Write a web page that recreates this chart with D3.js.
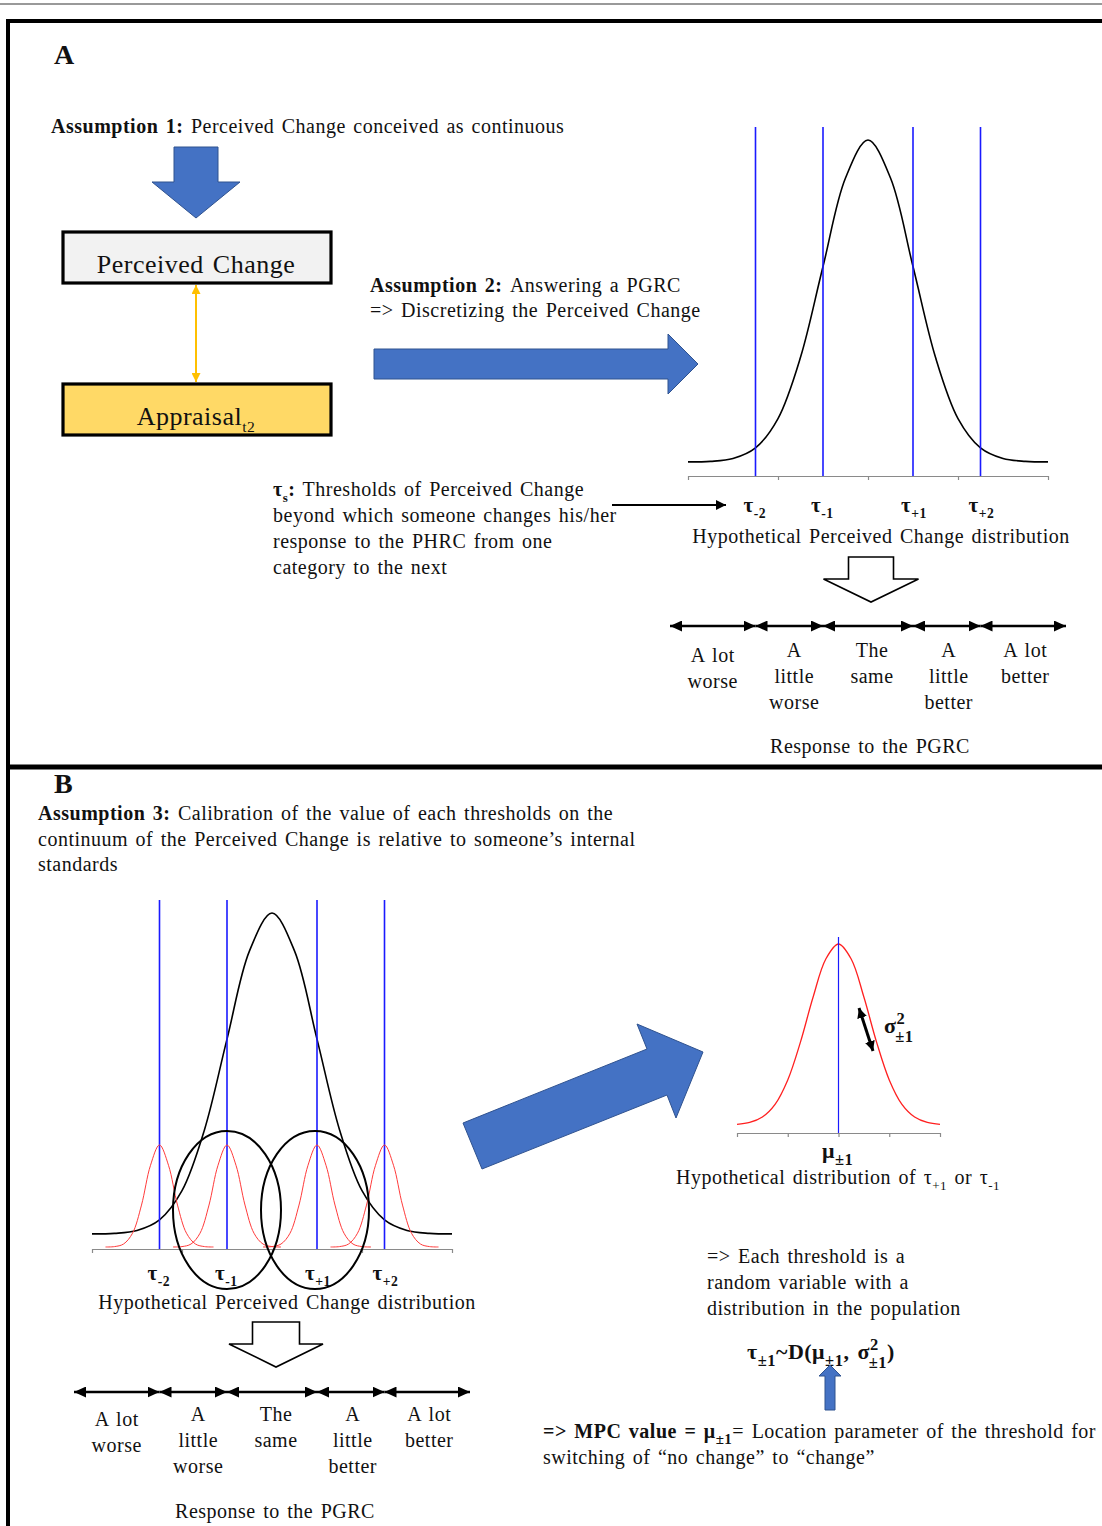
<!DOCTYPE html>
<html>
<head>
<meta charset="utf-8">
<script src="https://cdn.jsdelivr.net/npm/d3@7"></script>
<style>
  body { margin: 0; background: #fff; }
  svg { display: block; font-family: "Liberation Serif", "Times New Roman", serif; }
  text { letter-spacing: 0.5px; word-spacing: 2px; }
</style>
</head>
<body>
<svg id="chart"></svg>
<script>
// Data
const axisTicks = [-2, -1, 0, 1, 2];
const thresholds = [-1.25, -0.5, 0.5, 1.25];
const thresholdSubs = ["-2", "-1", "+1", "+2"];
const categoryEnds = [-2.2, 2.2];
const categories = [
  ["A lot", "worse"],
  ["A", "little", "worse"],
  ["The", "same"],
  ["A", "little", "better"],
  ["A lot", "better"],
];

// perceived change curve, relative height read at each x
const changeX = [-2, -1.75, -1.5, -1.25, -1, -0.75, -0.5, -0.25, 0, 0.25, 0.5, 0.75, 1, 1.25, 1.5, 1.75, 2];
const changeY = [0.0003, 0.002, 0.011, 0.044, 0.135, 0.325, 0.607, 0.882, 1, 0.882, 0.607, 0.325, 0.135, 0.044, 0.011, 0.002, 0.0003];

// small threshold curves (offset from each threshold)
const threshX = [-0.6, -0.5, -0.4, -0.3, -0.2, -0.1, 0, 0.1, 0.2, 0.3, 0.4, 0.5, 0.6];
const threshY = [0.0003, 0.004, 0.029, 0.135, 0.411, 0.801, 1, 0.801, 0.411, 0.135, 0.029, 0.004, 0.0003];

// distribution of a single threshold
const singleX = [-2, -1.75, -1.5, -1.25, -1, -0.75, -0.5, -0.25, 0, 0.25, 0.5, 0.75, 1, 1.25, 1.5, 1.75, 2];
const singleY = [0.004, 0.014, 0.044, 0.114, 0.249, 0.458, 0.707, 0.917, 1, 0.917, 0.707, 0.458, 0.249, 0.114, 0.044, 0.014, 0.004];

// Dimensions
const width = 1102;
const height = 1526;
const blue = "#4472C4";
const blueEdge = "#2F528F";
const lineBlue = "#1a1aff";
const labelShift = [0, 5, 4, 2, 2];

const svg = d3.select("#chart").attr("width", width).attr("height", height);

// Markers
const defs = svg.append("defs");
function marker(id, len, wid, color) {
  defs
    .append("marker")
    .attr("id", id)
    .attr("markerUnits", "userSpaceOnUse")
    .attr("markerWidth", len)
    .attr("markerHeight", wid)
    .attr("refX", len)
    .attr("refY", wid / 2)
    .attr("orient", "auto-start-reverse")
    .append("path")
    .attr("d", `M0,0L${len},${wid / 2}L0,${wid}Z`)
    .attr("fill", color);
}
marker("hb", 12, 11, "#000");
marker("hs", 10, 10, "#000");
marker("ho", 9, 9, "#FFC000");

// Helpers
function richText(parent, x, y, parts, o = {}) {
  const size = o.size || 20;
  const small = o.small || 0.65;
  const t = parent
    .append("text")
    .attr("x", x)
    .attr("y", y)
    .attr("font-size", size)
    .attr("text-anchor", o.anchor || "start")
    .attr("fill", "#111");
  let shift = 0;
  parts.forEach((p) => {
    if (typeof p === "string") p = { t: p };
    const s = p.sub ? size * (p.low || 0.3) : p.sup ? -size * 0.4 : 0;
    const ts = t.append("tspan").text(p.t).attr("dy", s - shift);
    shift = s;
    if (p.bold || o.bold) ts.attr("font-weight", "bold");
    if (p.sub || p.sup) ts.attr("font-size", size * small);
    if (p.dx) ts.attr("dx", p.dx);
  });
  return t;
}

function blockArrow(points, fill, stroke, sw) {
  svg
    .append("polygon")
    .attr("points", points.map((p) => p.join(",")).join(" "))
    .attr("fill", fill)
    .attr("stroke", stroke)
    .attr("stroke-width", sw);
}

// open (outlined) down arrow centred on cx
function openArrow(cx, top, shoulder, tip, shaftW, headW) {
  blockArrow(
    [
      [cx - shaftW / 2, top], [cx + shaftW / 2, top], [cx + shaftW / 2, shoulder],
      [cx + headW / 2, shoulder], [cx, tip], [cx - headW / 2, shoulder],
      [cx - shaftW / 2, shoulder],
    ],
    "#fff", "#000", 1.6
  );
}

// draws a full distribution panel
function distribution(x0, x1, base, peak, axisY, lineTop, labelY, gPanel) {
  const x = d3.scaleLinear().domain([-2, 2]).range([x0, x1]);
  const y = d3.scaleLinear().domain([0, 1]).range([base, peak]);

  gPanel
    .append("g")
    .attr("transform", `translate(0,${axisY})`)
    .call(d3.axisBottom(x).tickValues(axisTicks).tickSize(4).tickSizeOuter(0).tickFormat(""))
    .call((g) => g.selectAll("path,line").attr("stroke", "#8a8a8a").attr("stroke-width", 1.2));

  gPanel
    .append("path")
    .datum(changeX.map((v, i) => [v, changeY[i]]))
    .attr("fill", "none")
    .attr("stroke", "#000")
    .attr("stroke-width", 1.6)
    .attr("d", d3.line().x((d) => x(d[0])).y((d) => y(d[1])).curve(d3.curveCatmullRom));

  gPanel
    .selectAll(".thr")
    .data(thresholds)
    .enter()
    .append("line")
    .attr("x1", (d) => x(d))
    .attr("x2", (d) => x(d))
    .attr("y1", lineTop)
    .attr("y2", axisY)
    .attr("stroke", lineBlue)
    .attr("stroke-width", 1.6);

  thresholds.forEach((d, i) => {
    richText(gPanel, x(d) - 12, labelY, [
      { t: "τ", bold: true },
      { t: thresholdSubs[i], sub: true, bold: true },
    ], { size: 21 });
  });
  return x;
}

function categoryRow(x, y, labelY) {
  const edges = [categoryEnds[0], ...thresholds, categoryEnds[1]];
  for (let i = 0; i < categories.length; i++) {
    svg
      .append("line")
      .attr("x1", x(edges[i]))
      .attr("x2", x(edges[i + 1]))
      .attr("y1", y)
      .attr("y2", y)
      .attr("stroke", "#000")
      .attr("stroke-width", 2.6)
      .attr("marker-start", "url(#hb)")
      .attr("marker-end", "url(#hb)");
    const cx = (x(edges[i]) + x(edges[i + 1])) / 2 + labelShift[i];
    const off = i === 0 ? 5 : 0;
    categories[i].forEach((w, k) => {
      richText(svg, cx, labelY + off + k * 26, [w], { anchor: "middle" });
    });
  }
}

// Frame
svg.append("line").attr("x1", 0).attr("x2", width).attr("y1", 4).attr("y2", 4)
  .attr("stroke", "#777").attr("stroke-width", 1.5);
svg.append("line").attr("x1", 6).attr("x2", width).attr("y1", 21).attr("y2", 21)
  .attr("stroke", "#000").attr("stroke-width", 4);
svg.append("line").attr("x1", 8).attr("x2", 8).attr("y1", 19).attr("y2", height)
  .attr("stroke", "#000").attr("stroke-width", 4);
svg.append("line").attr("x1", 6).attr("x2", width).attr("y1", 767).attr("y2", 767)
  .attr("stroke", "#000").attr("stroke-width", 5);

// ---------- Panel A ----------
const gA = svg.append("g");
richText(svg, 54, 64, ["A"], { size: 28, bold: true });
richText(svg, 51, 133, [{ t: "Assumption 1: ", bold: true }, "Perceived Change conceived as continuous"]);

blockArrow([[174, 147], [218, 147], [218, 182], [240, 182], [196, 218], [152, 182], [174, 182]], blue, blueEdge, 1);

svg.append("rect").attr("x", 63).attr("y", 232).attr("width", 268).attr("height", 51)
  .attr("fill", "#f2f2f2").attr("stroke", "#000").attr("stroke-width", 3.2);
richText(svg, 196, 273, ["Perceived Change"], { size: 26, anchor: "middle" });

svg.append("line").attr("x1", 196).attr("x2", 196).attr("y1", 285).attr("y2", 382)
  .attr("stroke", "#FFC000").attr("stroke-width", 2)
  .attr("marker-start", "url(#ho)").attr("marker-end", "url(#ho)");

svg.append("rect").attr("x", 63).attr("y", 384).attr("width", 268).attr("height", 51)
  .attr("fill", "#FFD966").attr("stroke", "#000").attr("stroke-width", 3.2);
richText(svg, 196, 425, ["Appraisal", { t: "t2", sub: true, low: 0.28 }], { size: 26, anchor: "middle", small: 0.6 });

richText(svg, 370, 292, [{ t: "Assumption 2: ", bold: true }, "Answering a PGRC"]);
richText(svg, 370, 317, ["=> Discretizing the Perceived Change"]);
blockArrow([[374, 349], [668, 349], [668, 334], [698, 364], [668, 394], [668, 379], [374, 379]], blue, blueEdge, 1);

const xA = distribution(688, 1048, 462, 140, 476, 127, 512, gA);

richText(svg, 273, 496, [{ t: "τ", bold: true }, { t: "s", sub: true, bold: true }, { t: ":", bold: true }, " Thresholds of Perceived Change"]);
richText(svg, 273, 522, ["beyond which someone changes his/her"]);
richText(svg, 273, 548, ["response to the PHRC from one"]);
richText(svg, 273, 574, ["category to the next"]);
svg.append("line").attr("x1", 612).attr("x2", 726).attr("y1", 505).attr("y2", 505)
  .attr("stroke", "#000").attr("stroke-width", 2.2).attr("marker-end", "url(#hs)");

richText(svg, 881, 543, ["Hypothetical Perceived Change distribution"], { anchor: "middle" });
openArrow(871, 557, 579, 602, 45, 95);
categoryRow(xA, 626, 657);
richText(svg, 870, 753, ["Response to the PGRC"], { anchor: "middle" });

// ---------- Panel B ----------
const gB = svg.append("g");
richText(svg, 54, 793, ["B"], { size: 28, bold: true });
richText(svg, 38, 820, [{ t: "Assumption 3: ", bold: true }, "Calibration of the value of each thresholds on the"]);
richText(svg, 38, 846, ["continuum of the Perceived Change is relative to someone’s internal"]);
richText(svg, 38, 871, ["standards"]);

const xB = distribution(92, 452, 1234, 913, 1249, 900, 1280, gB);
const yRed = d3.scaleLinear().domain([0, 1]).range([1247, 1145]);
gB.selectAll(".red")
  .data(thresholds)
  .enter()
  .append("path")
  .attr("fill", "none")
  .attr("stroke", "#ff3b3b")
  .attr("stroke-width", 1)
  .attr("d", (t) =>
    d3.line().x((d) => xB(t + d[0])).y((d) => yRed(d[1])).curve(d3.curveCatmullRom)(
      threshX.map((v, i) => [v, threshY[i]])
    )
  );
gB.selectAll(".ell")
  .data([thresholds[1], thresholds[2]])
  .enter()
  .append("ellipse")
  .attr("cx", (d) => xB(d) - (d > 0 ? 2 : 0))
  .attr("cy", 1210)
  .attr("rx", 54)
  .attr("ry", 79)
  .attr("fill", "none")
  .attr("stroke", "#000")
  .attr("stroke-width", 2);

richText(svg, 287, 1309, ["Hypothetical Perceived Change distribution"], { anchor: "middle" });
openArrow(276, 1322, 1344, 1367, 47, 94);
categoryRow(xB, 1392, 1421);
richText(svg, 275, 1518, ["Response to the PGRC"], { anchor: "middle" });

blockArrow([[463, 1123], [647, 1049], [637, 1024], [703, 1052], [676, 1118], [667, 1095], [482, 1169]], blue, blueEdge, 1);

// single threshold distribution
const xS = d3.scaleLinear().domain([-2, 2]).range([737, 940]);
const yS = d3.scaleLinear().domain([0, 1]).range([1125, 944]);
svg.append("g")
  .attr("transform", "translate(0,1133)")
  .call(d3.axisBottom(xS).tickValues(axisTicks).tickSize(4).tickSizeOuter(0).tickFormat(""))
  .call((g) => g.selectAll("path,line").attr("stroke", "#8a8a8a").attr("stroke-width", 1.2));
svg.append("path")
  .datum(singleX.map((v, i) => [v, singleY[i]]))
  .attr("fill", "none")
  .attr("stroke", "#ff2020")
  .attr("stroke-width", 1.3)
  .attr("d", d3.line().x((d) => xS(d[0])).y((d) => yS(d[1])).curve(d3.curveCatmullRom));
svg.append("line").attr("x1", xS(0)).attr("x2", xS(0)).attr("y1", 937).attr("y2", 1133)
  .attr("stroke", lineBlue).attr("stroke-width", 1.2);
svg.append("line").attr("x1", 859).attr("x2", 873).attr("y1", 1008).attr("y2", 1051)
  .attr("stroke", "#000").attr("stroke-width", 3).attr("marker-start", "url(#hs)").attr("marker-end", "url(#hs)");
richText(svg, 884, 1033, [{ t: "σ" }, { t: "2", sup: true }, { t: "±1", sub: true, low: 0.42, dx: -10 }], { bold: true, size: 22, small: 0.75 });
richText(svg, 822, 1158, [{ t: "μ" }, { t: "±1", sub: true }], { bold: true, size: 22, small: 0.75 });
richText(svg, 838, 1184, ["Hypothetical distribution of τ", { t: "+1", sub: true }, " or τ", { t: "-1", sub: true }], { anchor: "middle" });

richText(svg, 707, 1263, ["=> Each threshold is a"]);
richText(svg, 707, 1289, ["random variable with a"]);
richText(svg, 707, 1315, ["distribution in the population"]);

richText(svg, 747, 1359, [
  { t: "τ" }, { t: "±1", sub: true }, { t: "~D(μ" }, { t: "±1", sub: true }, { t: ", σ" },
  { t: "2", sup: true }, { t: "±1", sub: true, low: 0.42, dx: -10 }, { t: ")" },
], { bold: true, size: 22, small: 0.75 });
blockArrow([[825, 1410], [825, 1376], [819, 1376], [830, 1365], [841, 1376], [835, 1376], [835, 1410]], blue, blueEdge, 1);

richText(svg, 543, 1438, [{ t: "=> MPC value = μ", bold: true }, { t: "±1", sub: true, bold: true }, "= Location parameter of the threshold for"], { small: 0.75 });
richText(svg, 543, 1464, ["switching of  “no change” to “change”"]);
</script>
</body>
</html>
